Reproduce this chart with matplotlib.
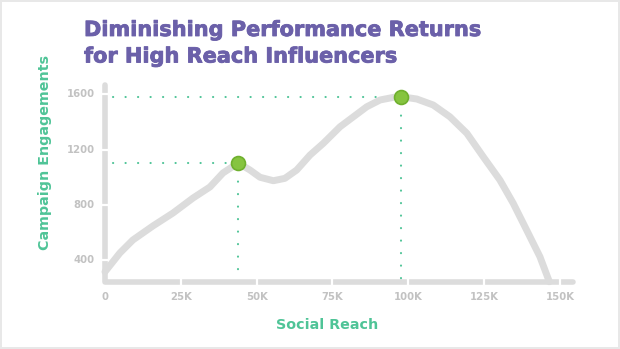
import matplotlib.pyplot as plt
import matplotlib.patheffects as pe

# curve (reach in K, engagements)
reach = [0, 4.9, 9.2, 15.8, 22.4, 29.0, 34.6, 38.9, 43.9, 47.8, 51.1, 55.5, 59.3,
         63.2, 67.6, 72.0, 77.5, 81.9, 86.3, 90.7, 95.1, 97.6, 102.8, 108.2, 113.7,
         119.3, 124.7, 130.2, 134.6, 139.0, 143.4, 146.5]
engagements = [319, 454, 548, 649, 742, 850, 930, 1031, 1103, 1052, 1000, 975, 992,
               1052, 1160, 1245, 1364, 1436, 1508, 1557, 1576, 1581, 1564, 1521, 1436,
               1317, 1148, 980, 812, 620, 427, 247]
peak_reach = [43.9, 97.6]
peak_eng = [1103, 1581]

x_ticks = [0, 25, 50, 75, 100, 125, 150]
x_labels = ['0', '25K', '50K', '75K', '100K', '125K', '150K']
y_ticks = [400, 800, 1200, 1600]

W, H = 620, 349
xmin, xmax = 0, 154.3
ymin, ymax = 245, 1665

purple = '#6b60a9'
teal = '#4fc497'
axis_gray = '#dcdcdc'
label_gray = '#c2c2c2'
font = 'DejaVu Sans'

fig = plt.figure(figsize=(W / 100, H / 100), dpi=100)
fig.patch.set_edgecolor('#e8e8e8')
fig.patch.set_linewidth(1.5)
ax = fig.add_axes([105 / W, 1 - 282 / H, (573 - 105) / W, (282 - 85) / H])
ax.set_xlim(xmin, xmax)
ax.set_ylim(ymin, ymax)
ax.axis('off')
renderer = fig.canvas.get_renderer()


def fit(txt, target_px):
    # scale the font so the text spans target_px pixels
    bb = txt.get_window_extent(renderer)
    txt.set_fontsize(txt.get_fontsize() * target_px / bb.width)


# axis lines with small gaps at the ticks
ax.plot([0, 0, xmax], [ymax, ymin, ymin], color=axis_gray, lw=4,
        solid_joinstyle='round', solid_capstyle='round', clip_on=False, zorder=1)
for t in x_ticks[1:]:
    ax.plot([t, t], [ymin - 15, ymin + 15], color='white', lw=1.6, clip_on=False, zorder=2)
for t in y_ticks:
    ax.plot([-1.2, 1.2], [t, t], color='white', lw=1.6, clip_on=False, zorder=2)

for t, lab in zip(x_ticks, x_labels):
    tx = ax.text(t, ymin - 110, lab, ha='center', va='center', fontsize=7.5,
                 fontweight='bold', color=label_gray, family=font)
    if lab == '100K':
        xsize = tx.get_fontsize() * 29 / tx.get_window_extent(renderer).width
for tx in ax.texts:
    tx.set_fontsize(xsize)
for t in y_ticks:
    ax.text(-3.3, t, str(t), ha='right', va='center', fontsize=xsize,
            fontweight='bold', color=label_gray, family=font)

# the curve
ax.plot(reach, engagements, color=axis_gray, lw=5, solid_joinstyle='round',
        solid_capstyle='round', zorder=3, clip_on=False)

# dotted guide lines
for px, py in zip(peak_reach, peak_eng):
    ax.plot([2.5, px - 3], [py, py], color=teal, lw=1.5, ls=(0, (0.1, 5.9)),
            dash_capstyle='round', zorder=2)
    ax.plot([px, px], [py - 45, ymin + 25], color=teal, lw=1.5, ls=(0, (0.1, 5.9)),
            dash_capstyle='round', zorder=2)

ax.plot(peak_reach, peak_eng, 'o', ms=10, mfc='#86c440', mec='#6fb02e', mew=1.2,
        zorder=4, clip_on=False)

heavy = [pe.withStroke(linewidth=0.6, foreground=purple)]
t1 = fig.text(84 / W, 1 - 30 / H, 'Diminishing Performance Returns', fontsize=16,
              fontweight='bold', color=purple, family=font, va='center',
              path_effects=heavy)
fit(t1, 398)
t2 = fig.text(84 / W, 1 - 56.5 / H, 'for High Reach Influencers', fontsize=t1.get_fontsize(),
              fontweight='bold', color=purple, family=font, va='center',
              path_effects=heavy)

xl = fig.text(327 / W, 1 - 325 / H, 'Social Reach', fontsize=11, fontweight='bold',
              color=teal, family=font, ha='center', va='center')
fit(xl, 101)
yl = fig.text(45 / W, 1 - 153 / H, 'Campaign Engagements', fontsize=xl.get_fontsize(),
              fontweight='bold', color=teal, family=font, ha='center', va='center',
              rotation=90)

fig.savefig('out.png', dpi=100)
